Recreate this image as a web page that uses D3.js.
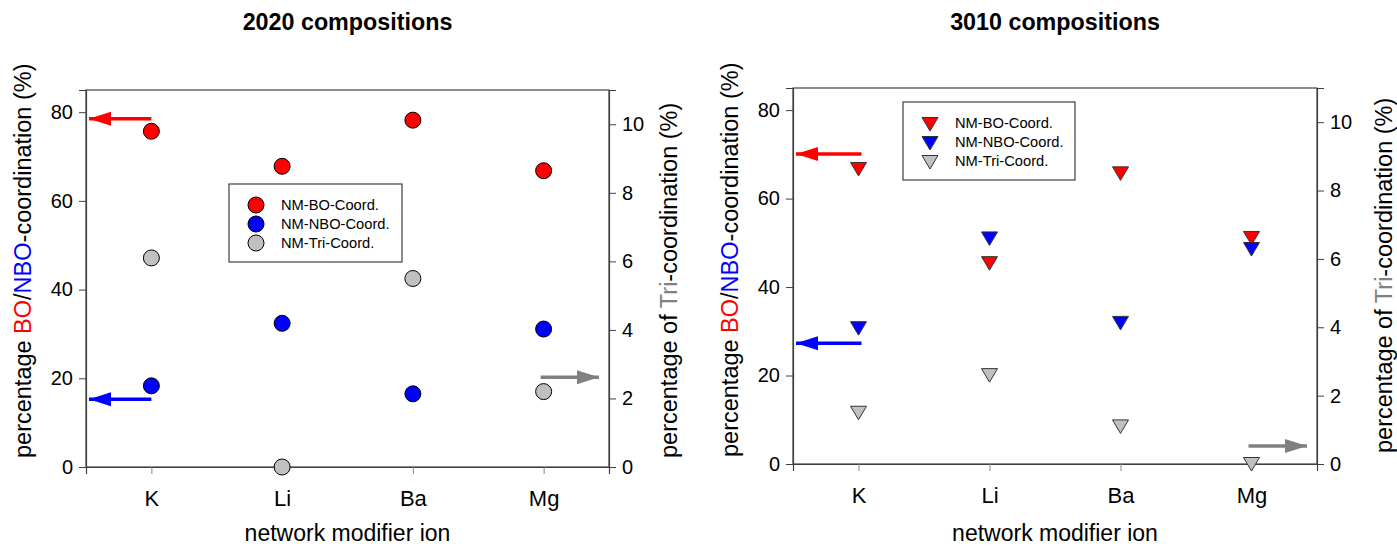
<!DOCTYPE html>
<html>
<head>
<meta charset="utf-8">
<script src="https://cdn.jsdelivr.net/npm/d3@7"></script>
<style>
  body { margin: 0; background: #fff; }
  svg { font-family: Arial, "Liberation Sans", sans-serif; }
</style>
</head>
<body>
<svg id="chart" width="1397" height="547"></svg>
<script>
// categories shared by both panels
var ions = ["K", "Li", "Ba", "Mg"];
var leftTicks = [0, 20, 40, 60, 80];
var rightTicks = [0, 2, 4, 6, 8, 10];
var legendNames = ["NM-BO-Coord.", "NM-NBO-Coord.", "NM-Tri-Coord."];

// 2020 compositions (circles)
var bo2020 = [75.7, 67.8, 78.2, 66.8];
var nbo2020 = [18.3, 32.4, 16.5, 31.1];
var tri2020 = [6.1, 0.0, 5.5, 2.2];

// 3010 compositions (down triangles)
var bo3010 = [66.7, 45.4, 65.7, 51.1];
var nbo3010 = [30.7, 51.0, 31.9, 48.6];
var tri3010 = [1.5, 2.6, 1.1, 0.0];

// arrows showing which axis a series belongs to: [value, axis, colour]
var arrows2020 = [[78.5, "left", "red"], [15.3, "left", "blue"], [2.62, "right", "gray"]];
var arrows3010 = [[70.1, "left", "red"], [27.3, "left", "blue"], [0.53, "right", "gray"]];

var svg = d3.select("#chart");

var colors = { red: "#ff0000", blue: "#0000ff", gray: "#c0c0c0", arrowGray: "#808080" };

function drawPanel(opt) {
  var g = svg.append("g");
  var x = d3.scaleLinear().domain([0.5, 4.5]).range([opt.left, opt.right]);
  var yL = d3.scaleLinear().domain([0, 85]).range([opt.bottom, opt.top]);
  var yR = d3.scaleLinear().domain([0, 11]).range([opt.bottom, opt.top]);

  // frame
  g.append("rect")
    .attr("x", opt.left).attr("y", opt.top)
    .attr("width", opt.right - opt.left).attr("height", opt.bottom - opt.top)
    .attr("fill", "none").attr("stroke", "#404040").attr("stroke-width", 1.2);

  // axes
  var axL = g.append("g").attr("transform", "translate(" + opt.left + ",0)")
    .call(d3.axisLeft(yL).tickValues(leftTicks).tickSize(7).tickPadding(6));
  var axR = g.append("g").attr("transform", "translate(" + opt.right + ",0)")
    .call(d3.axisRight(yR).tickValues(rightTicks).tickSize(7).tickPadding(6));
  var axB = g.append("g").attr("transform", "translate(0," + opt.bottom + ")")
    .call(d3.axisBottom(x).tickValues([1, 2, 3, 4]).tickFormat(function(d) { return ions[d - 1]; })
      .tickSize(7).tickPadding(16));
  [axL, axR, axB].forEach(function(a) {
    a.select(".domain").attr("stroke", "#404040").attr("stroke-width", 1.2);
    a.selectAll(".tick line").attr("stroke", "#404040");
    a.selectAll("text").attr("font-size", 20).attr("fill", "#000")
      .attr("font-family", "Arial, 'Liberation Sans', sans-serif");
  });
  axB.selectAll("text").attr("font-size", 22);
  axB.selectAll(".tick line").attr("stroke", "#888");

  // titles
  var cx = (opt.left + opt.right) / 2;
  g.append("text").attr("x", cx).attr("y", 30).attr("text-anchor", "middle")
    .attr("font-size", 23.3).attr("font-weight", "bold").text(opt.title);
  g.append("text").attr("x", cx).attr("y", 541).attr("text-anchor", "middle")
    .attr("font-size", 23).text("network modifier ion");

  // y titles
  var tl = g.append("text").attr("transform", "translate(" + opt.leftTitle[0] + "," + opt.leftTitle[1] + ") rotate(-90)")
    .attr("text-anchor", "start").attr("font-size", 23.5);
  tl.append("tspan").text("percentage ");
  tl.append("tspan").attr("fill", colors.red).text("BO");
  tl.append("tspan").text("/");
  tl.append("tspan").attr("fill", colors.blue).text("NBO");
  tl.append("tspan").text("-coordination (%)");
  var tr = g.append("text").attr("transform", "translate(" + opt.rightTitle[0] + "," + opt.rightTitle[1] + ") rotate(-90)")
    .attr("text-anchor", "start").attr("font-size", 23.5);
  tr.append("tspan").text("percentage of ");
  tr.append("tspan").attr("fill", "#808080").text("Tri");
  tr.append("tspan").text("-coordination (%)");

  // markers
  var series = [
    { vals: opt.bo, y: yL, fill: colors.red },
    { vals: opt.nbo, y: yL, fill: colors.blue },
    { vals: opt.tri, y: yR, fill: colors.gray }
  ];
  var tri = "M-8,-6.5L8,-6.5L0,7Z";
  series.forEach(function(s) {
    var sel = g.selectAll(null).data(s.vals).enter();
    if (opt.shape === "circle") {
      sel.append("circle")
        .attr("cx", function(d, i) { return x(i + 1); })
        .attr("cy", function(d) { return s.y(d); })
        .attr("r", 8).attr("fill", s.fill).attr("stroke", "#000").attr("stroke-width", 1);
    } else {
      sel.append("path")
        .attr("transform", function(d, i) { return "translate(" + x(i + 1) + "," + s.y(d) + ")"; })
        .attr("d", tri).attr("fill", s.fill).attr("stroke", "#333").attr("stroke-width", 1);
    }
  });

  // arrows
  opt.arrows.forEach(function(a) {
    var col = a[2] === "gray" ? colors.arrowGray : colors[a[2]];
    var yy, x0, x1;
    if (a[1] === "left") {
      yy = yL(a[0]); x0 = x(1) + opt.arrowShift; x1 = opt.left + 3;
    } else {
      yy = yR(a[0]); x0 = x(4) - 3; x1 = opt.right - 10;
    }
    var dir = x1 < x0 ? -1 : 1;
    var headLen = 22;
    g.append("line").attr("x1", x0).attr("x2", x1).attr("y1", yy).attr("y2", yy)
      .attr("stroke", col).attr("stroke-width", 3.5);
    g.append("path")
      .attr("d", "M" + x1 + "," + yy + "L" + (x1 - dir * headLen) + "," + (yy - 7) + "L" + (x1 - dir * headLen) + "," + (yy + 7) + "Z")
      .attr("fill", col);
  });

  // legend
  var lg = g.append("g");
  lg.append("rect").attr("x", opt.legend[0]).attr("y", opt.legend[1])
    .attr("width", opt.legend[2]).attr("height", opt.legend[3])
    .attr("fill", "#fff").attr("stroke", "#404040").attr("stroke-width", 1.2);
  var lfills = [colors.red, colors.blue, colors.gray];
  legendNames.forEach(function(name, i) {
    var ly = opt.legend[1] + 21 + i * 19;
    var mx = opt.legend[0] + 27;
    if (opt.shape === "circle") {
      lg.append("circle").attr("cx", mx).attr("cy", ly).attr("r", 8)
        .attr("fill", lfills[i]).attr("stroke", "#000");
    } else {
      lg.append("path").attr("transform", "translate(" + mx + "," + (ly + 1) + ")").attr("d", tri)
        .attr("fill", lfills[i]).attr("stroke", "#333");
    }
    lg.append("text").attr("x", opt.legend[0] + 52).attr("y", ly + 5)
      .attr("font-size", 14.7).text(name);
  });
}

drawPanel({
  title: "2020 compositions", shape: "circle",
  left: 86, right: 609, top: 90, bottom: 467,
  leftTitle: [31, 458], rightTitle: [677, 458],
  bo: bo2020, nbo: nbo2020, tri: tri2020, arrows: arrows2020, arrowShift: 0,
  legend: [229, 184, 173, 78]
});

drawPanel({
  title: "3010 compositions", shape: "tri",
  left: 793, right: 1317, top: 88, bottom: 464,
  leftTitle: [738, 457], rightTitle: [1392, 453],
  bo: bo3010, nbo: nbo3010, tri: tri3010, arrows: arrows3010, arrowShift: 3,
  legend: [903, 102, 172, 78]
});
</script>
</body>
</html>
